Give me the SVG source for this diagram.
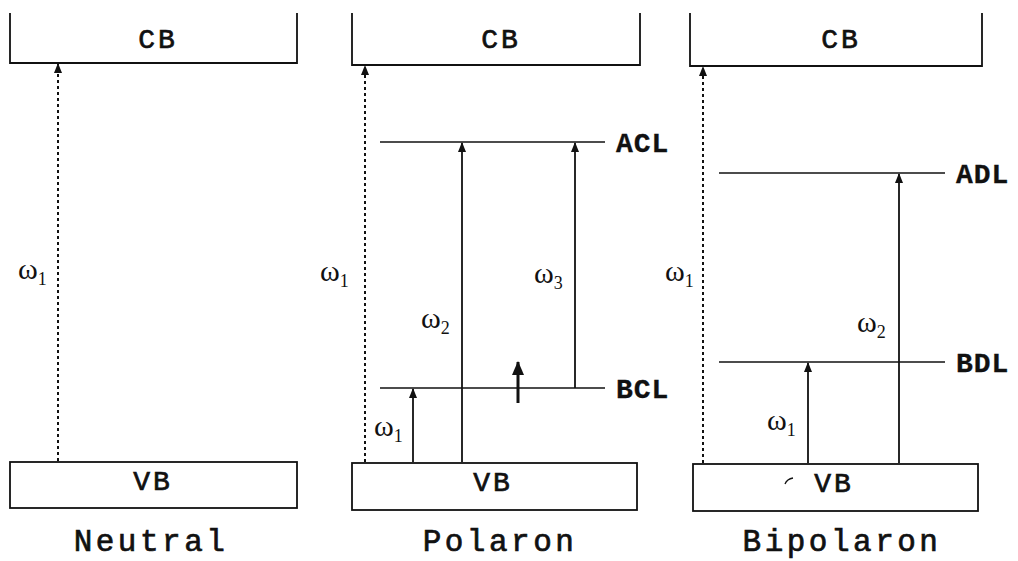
<svg xmlns="http://www.w3.org/2000/svg" width="1018" height="561" viewBox="0 0 1018 561">
<defs>
<marker id="ah" markerWidth="10" markerHeight="8" refX="9" refY="4" orient="auto" markerUnits="userSpaceOnUse" viewBox="0 0 10 8">
<path d="M0,0 L10,4 L0,8 Z" fill="#111"/>
</marker>
<marker id="ahb" markerWidth="14" markerHeight="12" refX="13" refY="6" orient="auto" markerUnits="userSpaceOnUse" viewBox="0 0 14 12">
<path d="M0,0 L14,6 L0,12 Z" fill="#111"/>
</marker>
<style>
.band{fill:none;stroke:#111;stroke-width:1.8}
.lvl{stroke:#111;stroke-width:1.6}
.dash{stroke:#111;stroke-width:2;stroke-dasharray:3 3;fill:none}
.arr{stroke:#111;stroke-width:1.8;fill:none}
.mono{font-family:"Liberation Mono","Courier New",monospace;fill:#111;stroke:#111;stroke-width:0.7}
.bl{font-size:28px;letter-spacing:3px;text-anchor:middle}
.lv{font-size:28px;font-weight:bold;letter-spacing:1px;stroke-width:0.3}
.ti{font-size:31px;letter-spacing:3.5px;text-anchor:middle}
.w{font-family:"Liberation Serif","Times New Roman",serif;font-size:30px;fill:#111}
.s{font-size:18px}
</style>
</defs>
<rect width="1018" height="561" fill="#fff"/>

<g id="neutral">
<g id="neutral-cb"><path class="band" d="M10,13 V63 H297 V13"/><text class="mono bl" x="158" y="48">CB</text></g>
<g id="neutral-vb"><rect class="band" x="10" y="462" width="287" height="46"/><text class="mono bl" x="153" y="490">VB</text></g>
<text class="mono ti" x="151" y="551">Neutral</text>
</g>

<g id="polaron">
<g id="polaron-cb"><path class="band" d="M352,13 V65 H640 V13"/><text class="mono bl" x="501" y="48">CB</text></g>
<g id="polaron-vb"><rect class="band" x="352" y="463" width="285" height="47"/><text class="mono bl" x="493" y="491">VB</text></g>
<g id="acl"><line class="lvl" x1="380" y1="142" x2="605" y2="142"/><text class="mono lv" x="616" y="152">ACL</text></g>
<g id="bcl"><line class="lvl" x1="380" y1="388" x2="605" y2="388"/><text class="mono lv" x="616" y="398">BCL</text></g>
<text class="mono ti" x="500" y="551">Polaron</text>
</g>

<g id="bipolaron">
<g id="bipolaron-cb"><path class="band" d="M690,13 V66 H982 V13"/><text class="mono bl" x="841" y="48">CB</text></g>
<g id="bipolaron-vb"><rect class="band" x="693" y="464" width="285" height="47"/><text class="mono bl" x="834" y="492">VB</text>
<path d="M785,484 Q787,479 793,478" stroke="#111" stroke-width="1.3" fill="none"/></g>
<g id="adl"><line class="lvl" x1="719" y1="173" x2="945" y2="173"/><text class="mono lv" x="956" y="183">ADL</text></g>
<g id="bdl"><line class="lvl" x1="719" y1="362" x2="945" y2="362"/><text class="mono lv" x="956" y="372">BDL</text></g>
<text class="mono ti" x="842" y="551">Bipolaron</text>
</g>

<g id="connectors">
<line class="dash" x1="58" y1="461" x2="58" y2="64" marker-end="url(#ah)"/>
<line class="dash" x1="365" y1="462" x2="365" y2="66" marker-end="url(#ah)"/>
<line class="dash" x1="703" y1="463" x2="703" y2="67" marker-end="url(#ah)"/>
<line class="arr" x1="413" y1="462" x2="413" y2="389" marker-end="url(#ah)"/>
<line class="arr" x1="462" y1="462" x2="462" y2="143" marker-end="url(#ah)"/>
<line class="arr" x1="575" y1="388" x2="575" y2="143" marker-end="url(#ah)"/>
<line class="arr" style="stroke-width:3" x1="518" y1="403" x2="518" y2="362" marker-end="url(#ahb)"/>
<line class="arr" x1="808" y1="463" x2="808" y2="363" marker-end="url(#ah)"/>
<line class="arr" x1="899" y1="463" x2="899" y2="174" marker-end="url(#ah)"/>
</g>

<g id="labels">
<text class="w" x="18" y="279">ω<tspan class="s" dy="6">1</tspan></text>
<text class="w" x="320" y="281">ω<tspan class="s" dy="6">1</tspan></text>
<text class="w" x="665" y="281">ω<tspan class="s" dy="6">1</tspan></text>
<text class="w" x="374" y="436">ω<tspan class="s" dy="6">1</tspan></text>
<text class="w" x="421" y="328">ω<tspan class="s" dy="6">2</tspan></text>
<text class="w" x="534" y="283">ω<tspan class="s" dy="6">3</tspan></text>
<text class="w" x="767" y="430">ω<tspan class="s" dy="6">1</tspan></text>
<text class="w" x="857" y="332">ω<tspan class="s" dy="6">2</tspan></text>
</g>
</svg>
